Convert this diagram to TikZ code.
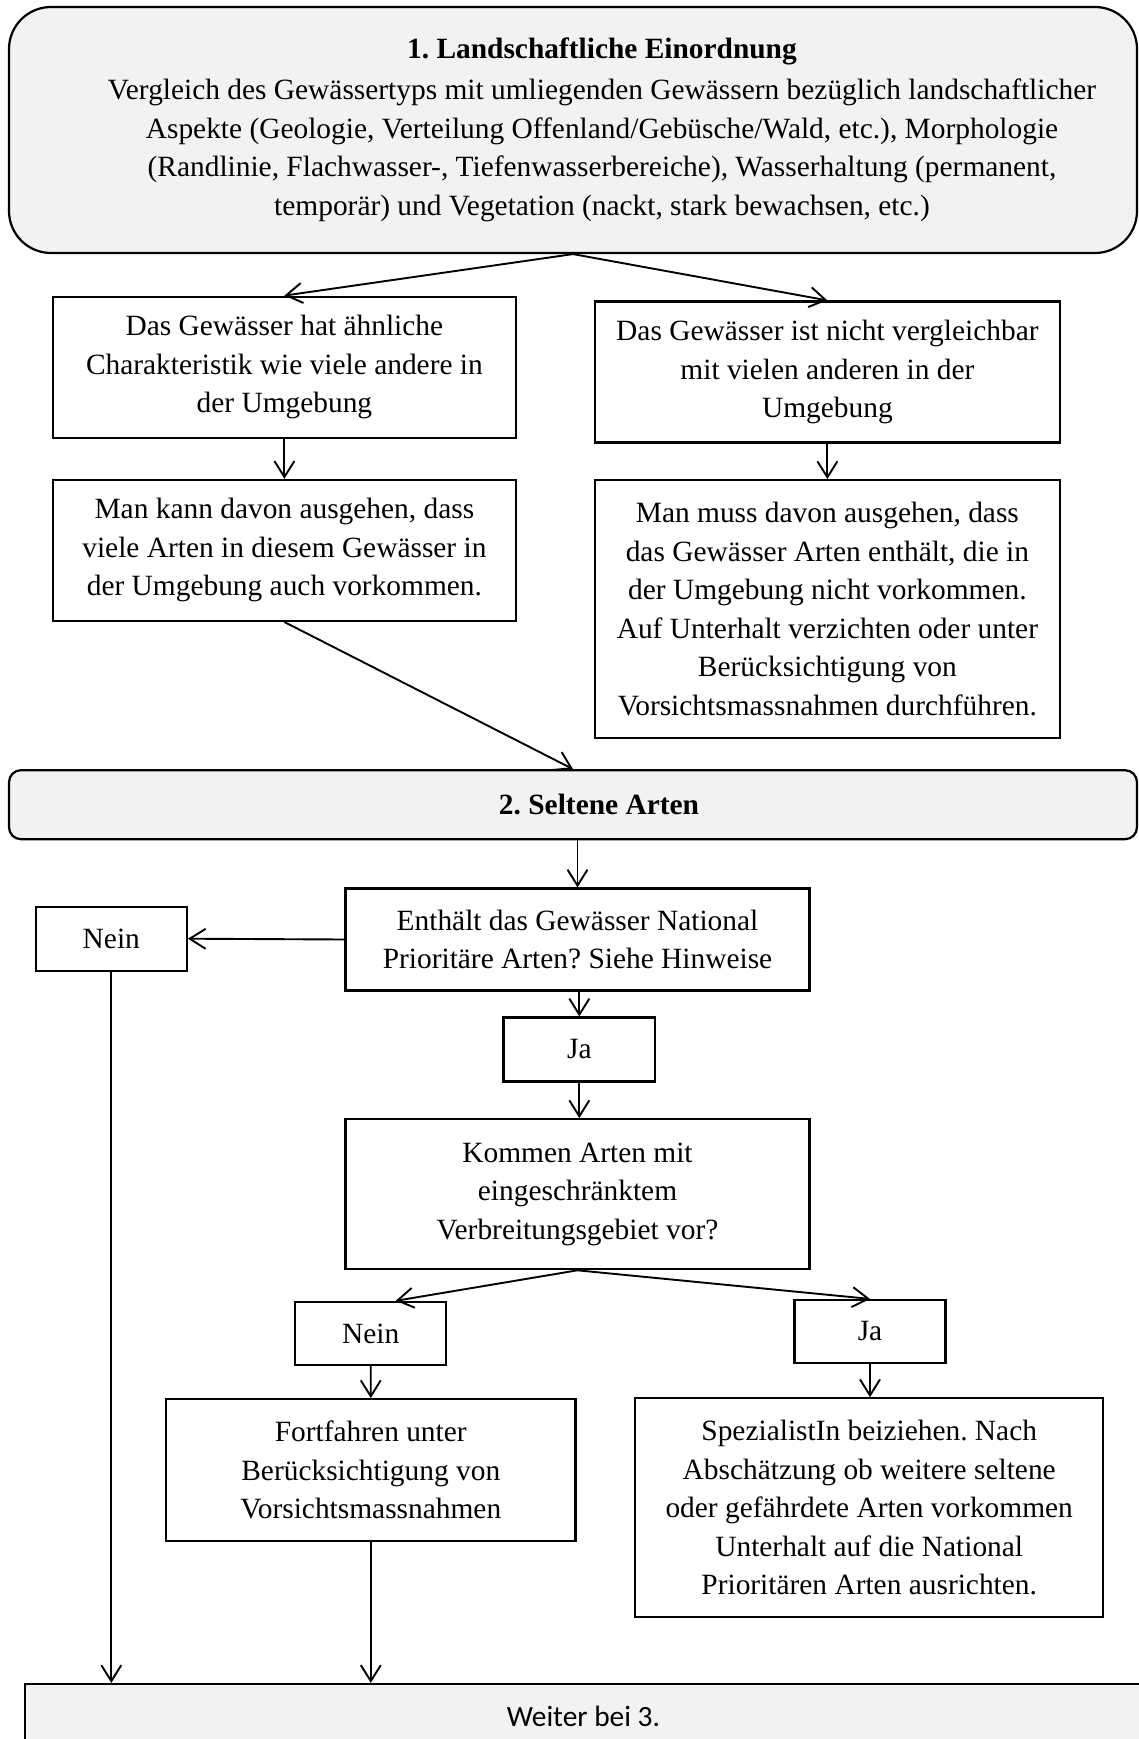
\documentclass[tikz,border=0pt]{standalone}
\usepackage{fontspec}
\setmainfont{Liberation Serif}
\newfontfamily\calibrifont{Carlito}
\usetikzlibrary{arrows.meta,calc}
\definecolor{boxgray}{HTML}{F2F2F2}
\frenchspacing
\begin{document}
\begin{tikzpicture}[x=1pt,y=-1pt,
  font=\fontsize{29.4}{38.5}\selectfont,
  box/.style={draw, line width=2.2pt, align=center, inner sep=0pt},
  roundbox/.style={box, fill=boxgray},
  arr/.style={-{Straight Barb[length=16pt,width=20pt]}, line width=1.9pt}]
\useasboundingbox (0,0) rectangle (1139,1739);
% top rounded box
\node[roundbox, minimum width=1128pt, minimum height=246pt, rounded corners=42pt] (top) at (573,130) {};
\node[align=center, inner sep=0pt] (toptext) at (602,130) {\textbf{1. Landschaftliche Einordnung}\\[2.5pt]
Vergleich des Gewässertyps mit umliegenden Gewässern bezüglich landschaftlicher\\
Aspekte (Geologie, Verteilung Offenland/Gebüsche/Wald, etc.), Morphologie\\
(Randlinie, Flachwasser-, Tiefenwasserbereiche), Wasserhaltung (permanent,\\
temporär) und Vegetation (nackt, stark bewachsen, etc.)};
% first level
\node[box, minimum width=463pt, minimum height=141pt] (A) at (284.4,367.2) {Das Gewässer hat ähnliche\\Charakteristik wie viele andere in\\der Umgebung};
\node[box, minimum width=465pt, minimum height=141pt] (B) at (827.4,372) {Das Gewässer ist nicht vergleichbar\\mit vielen anderen in der\\Umgebung};
\node[box, minimum width=463pt, minimum height=141pt] (C) at (284.4,550.4) {Man kann davon ausgehen, dass\\viele Arten in diesem Gewässer in\\der Umgebung auch vorkommen.};
\node[box, minimum width=465pt, minimum height=258pt] (D) at (827.4,609.2) {Man muss davon ausgehen, dass\\das Gewässer Arten enthält, die in\\der Umgebung nicht vorkommen.\\Auf Unterhalt verzichten oder unter\\Berücksichtigung von\\Vorsichtsmassnahmen durchführen.};
% second rounded box
\node[roundbox, minimum width=1128pt, minimum height=69pt, rounded corners=12pt] (sel) at (573,804.7) {};
\node[inner sep=0pt] (seltext) at (599,804) {\textbf{2. Seltene Arten}};
% decision part
\node[box, minimum width=151pt, minimum height=64pt] (nein1) at (111.3,938.7) {Nein};
\node[box, minimum width=464pt, minimum height=102pt] (E) at (577.5,939.5) {Enthält das Gewässer National\\Prioritäre Arten? Siehe Hinweise};
\node[box, minimum width=151.5pt, minimum height=64pt] (ja1) at (579.3,1049.5) {Ja};
\node[box, minimum width=464pt, minimum height=150pt] (F) at (577.5,1194.2) {Kommen Arten mit\\eingeschränktem\\Verbreitungsgebiet vor?};
\node[box, minimum width=151pt, minimum height=63pt] (nein2) at (370.7,1333.4) {Nein};
\node[box, minimum width=151pt, minimum height=63pt] (ja2) at (870,1331.5) {Ja};
\node[box, minimum width=409.5pt, minimum height=142pt] (G) at (370.8,1470.2) {Fortfahren unter\\Berücksichtigung von\\Vorsichtsmassnahmen};
\node[box, minimum width=468pt, minimum height=219pt] (H) at (869.2,1507.8) {SpezialistIn beiziehen. Nach\\Abschätzung ob weitere seltene\\oder gefährdete Arten vorkommen\\Unterhalt auf die National\\Prioritären Arten ausrichten.};
\node[box, fill=boxgray, minimum width=1117pt, minimum height=64pt] (bottom) at (583.4,1716) {\calibrifont Weiter bei 3.};
% connectors
\draw[arr] (top.south) -- (A.north);
\draw[arr] (top.south) -- (B.north);
\draw[arr] (A.south) -- (C.north);
\draw[arr] (B.south) -- (D.north);
\draw[arr] (C.south) -- (sel.north);
\draw[arr] (sel.south -| E.north) -- (E.north);
\draw[arr] (E.west) -- (nein1.east);
\draw[arr] (ja1.north |- E.south) -- (ja1.north);
\draw[arr] (ja1.south) -- (ja1.south |- F.north);
\draw[arr] (F.south) -- ([xshift=25pt]nein2.north);
\draw[arr] (F.south) -- (ja2.north);
\draw[arr] (nein2.south) -- (G.north);
\draw[arr] (ja2.south) -- (ja2.south |- H.north);
\draw[arr] (G.south) -- (G.south |- bottom.north);
\draw[arr] (nein1.south) -- (nein1.south |- bottom.north);
\end{tikzpicture}
\end{document}
